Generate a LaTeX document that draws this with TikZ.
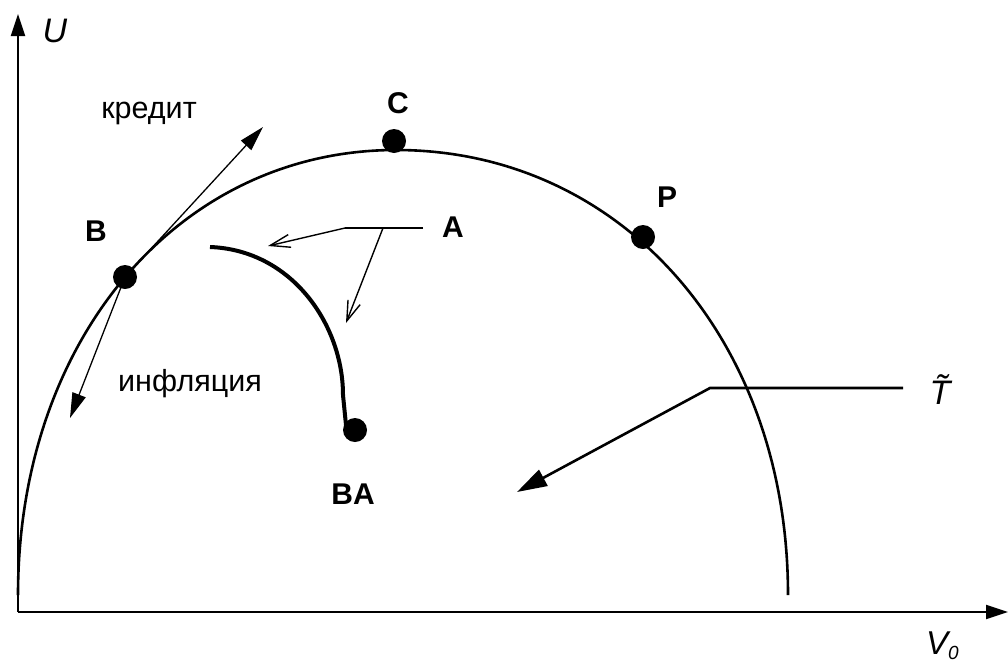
\documentclass[tikz,border=0pt]{standalone}
\usepackage{fontspec}
\setmainfont{Liberation Sans}
\usetikzlibrary{arrows.meta}
\tikzset{
  axisline/.style={line width=2pt, -{Triangle[length=22pt,width=14pt]}},
  bigarc/.style={line width=2.6pt},
  dotnode/.style={circle, fill=black, minimum size=24pt, inner sep=0pt},
  latlabel/.style={font=\fontsize{30}{34}\selectfont\bfseries, inner sep=0pt},
  cyrlabel/.style={font=\fontsize{30.5}{34}\selectfont, inner sep=0pt},
  thinarrow/.style={line width=1.3pt, -{Triangle[length=25pt,width=14pt]}},
  openarrow/.style={line width=1.4pt, -{Straight Barb[length=20pt,width=13pt]}},
  thickarrow/.style={line width=2.6pt, -{Triangle[length=30pt,width=18pt]}},
}
\begin{document}
\begin{tikzpicture}[x=1pt,y=-1pt]
\useasboundingbox (0,0) rectangle (1008,662);
% axes
\coordinate (orig) at (18,612);
\coordinate (ytip) at (18,14);
\coordinate (xtip) at (1008,612);
\draw[axisline] (orig) -- (ytip);
\draw[axisline] (orig) -- (xtip);
\node[inner sep=0pt, font=\fontsize{34}{38}\selectfont\itshape] (Ulab) at (55,31) {U};
\node[inner sep=0pt, anchor=base west, font=\fontsize{33}{36}\selectfont\itshape] (Vlab) at (926,654) {V\raisebox{-0.18em}{\fontsize{19}{20}\selectfont 0}};
% big arc
\coordinate (arcL) at (18,595);
\coordinate (arcTop) at (396,150);
\coordinate (arcR) at (788,595);
\draw[bigarc] (arcL) .. controls (18,339) and (179,150) .. (arcTop)
  .. controls (621,150) and (788,339) .. (arcR);
% dots
\node[dotnode] (B) at (125,277) {};
\node[dotnode] (C) at (394,141) {};
\node[dotnode] (P) at (643,237) {};
% labels
\node[latlabel] (Blab) at (96,231) {B};
\node[latlabel] (Clab) at (398,103) {C};
\node[latlabel] (Plab) at (667,197) {P};
\node[latlabel] (Alab) at (453,227) {A};
\node[latlabel] (BAlab) at (353,494) {BA};
\node[cyrlabel] (kred) at (149,113) {кредит};
\node[cyrlabel] (infl) at (190,384) {инфляция};
% tangent arrows at B
\coordinate (kt) at (263,127);
\coordinate (it) at (70,418);
\draw[thinarrow] (B.center) -- (kt);
\draw[thinarrow] (B.center) -- (it);
% BA curve
\coordinate (bas) at (210,247);
\coordinate (bae) at (346,425);
\draw[line width=4pt] (bas) .. controls (292,250) and (343,325) .. (343,395) -- (bae);
\node[dotnode] (BA) at (355,430) {};
% A leaders
\coordinate (ae) at (423,228);
\coordinate (aj) at (345,228);
\coordinate (aj2) at (383,228);
\coordinate (a1) at (268,246);
\coordinate (a2) at (346,323);
\draw[line width=1.4pt] (ae) -- (aj);
\draw[openarrow] (aj) -- (a1);
\draw[openarrow] (aj2) -- (a2);
% T leader
\node[inner sep=0pt, font=\fontsize{34}{38}\selectfont\itshape] (Tlab) at (940,390) {\~{T}};
\coordinate (te) at (903,388);
\coordinate (tc) at (710,388);
\coordinate (tt) at (517,492);
\draw[thickarrow] (te) -- (tc) -- (tt);
\end{tikzpicture}
\end{document}
